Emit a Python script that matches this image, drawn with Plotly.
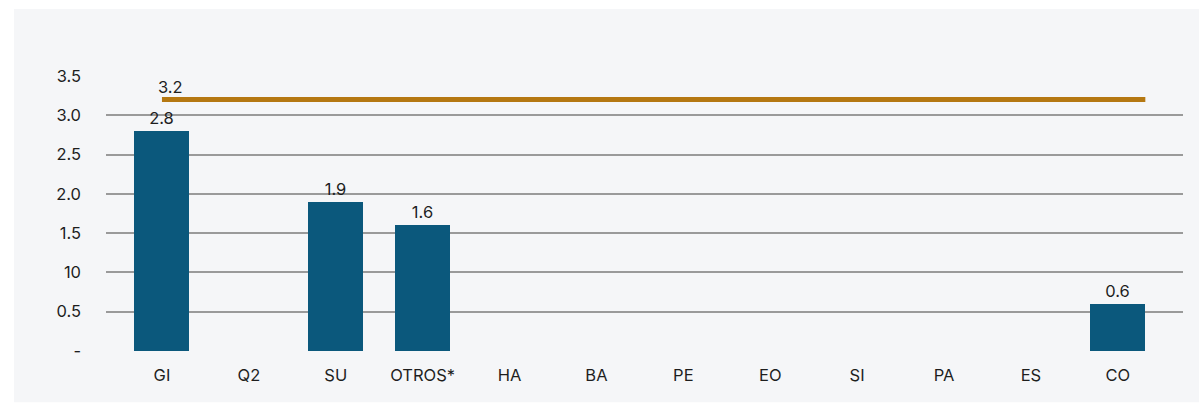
import plotly.graph_objects as go

# Categories and values
categories = ["GI", "Q2", "SU", "OTROS*", "HA", "BA", "PE", "EO", "SI", "PA", "ES", "CO"]
values = [2.8, None, 1.9, 1.6, None, None, None, None, None, None, None, 0.6]
target = 3.2

y_tickvals = [0, 0.5, 1.0, 1.5, 2.0, 2.5, 3.0, 3.5]
y_ticktext = ["-", "0.5", "10", "1.5", "2.0", "2.5", "3.0", "3.5"]

BAR_COLOR = "#0b587c"
LINE_COLOR = "#b57812"
TEXT_COLOR = "#1e1e1e"
GRID_COLOR = "#9a9a9a"
PANEL_COLOR = "#f5f6f8"
FONT = "Inter"
FONT_SIZE = 16.5

x_idx = list(range(len(categories)))
bar_width = 0.633

fig = go.Figure()

fig.add_trace(go.Bar(
    x=x_idx,
    y=values,
    width=bar_width,
    marker=dict(color=BAR_COLOR, line=dict(width=0)),
    text=[f"{v:.1f}" if v is not None else "" for v in values],
    textposition="outside",
    cliponaxis=False,
    textfont=dict(family=FONT, size=FONT_SIZE, color=TEXT_COLOR),
    hoverinfo="skip",
))

# Target line from the first category to the right edge of the last bar
fig.add_trace(go.Scatter(
    x=[0, len(categories) - 1 + bar_width / 2],
    y=[target, target],
    mode="lines",
    line=dict(color=LINE_COLOR, width=5),
    hoverinfo="skip",
))

fig.add_annotation(
    x=0, y=target, text=f"{target:.1f}",
    xanchor="left", yanchor="bottom", showarrow=False,
    xshift=-6, yshift=1,
    font=dict(family=FONT, size=FONT_SIZE, color=TEXT_COLOR),
)

# Light panel behind the chart
fig.add_shape(
    type="rect", xref="paper", yref="paper",
    x0=-0.0854, x1=1.02, y0=-0.186, y1=1.2436,
    fillcolor=PANEL_COLOR, line=dict(width=0), layer="below",
)

fig.update_layout(
    width=1199, height=403,
    margin=dict(l=106, r=16, t=76, b=52),
    paper_bgcolor="white",
    plot_bgcolor="rgba(0,0,0,0)",
    showlegend=False,
    bargap=0,
    font=dict(family=FONT, size=FONT_SIZE, color=TEXT_COLOR),
)

fig.update_xaxes(
    range=[-0.644, 11.75],
    tickvals=x_idx, ticktext=categories,
    showgrid=False, zeroline=False, showline=False, ticks="",
    ticklabelstandoff=12,
    tickfont=dict(family=FONT, size=FONT_SIZE, color=TEXT_COLOR),
    fixedrange=True,
)

fig.update_yaxes(
    range=[0, 3.5],
    tickvals=y_tickvals, ticktext=y_ticktext,
    showgrid=True, gridcolor=GRID_COLOR, gridwidth=1.5,
    zeroline=False, showline=False, ticks="",
    ticklabelstandoff=24,
    tickfont=dict(family=FONT, size=FONT_SIZE, color=TEXT_COLOR),
    fixedrange=True,
)

fig.write_html("out.html")
